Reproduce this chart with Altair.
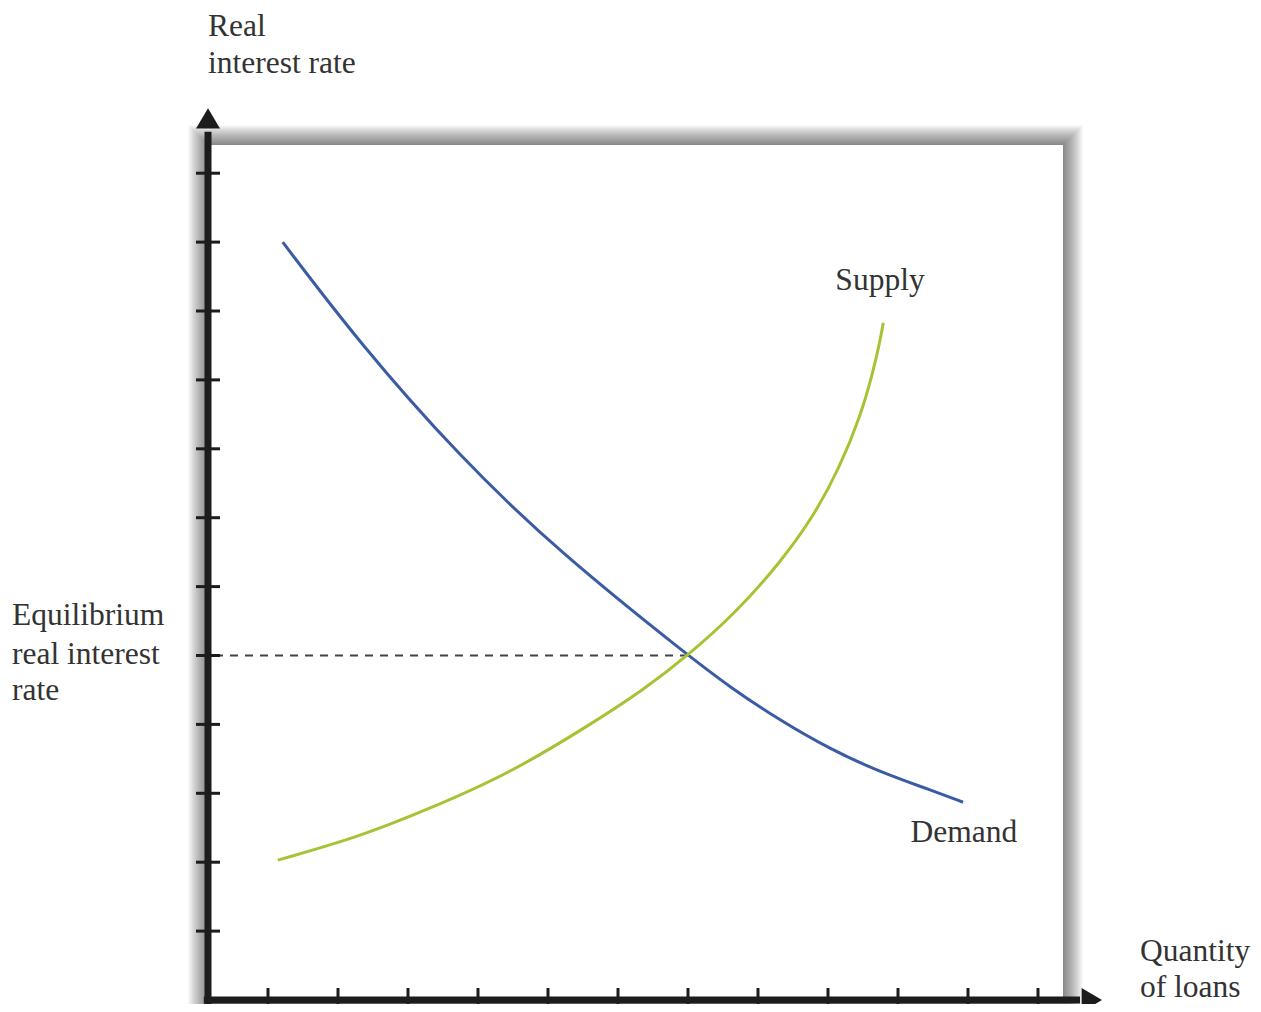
import altair as alt
import pandas as pd

# ---- data (x = quantity ticks 1..12, y = rate ticks 1..12) ----
demand_x = [1.21, 2.31, 3.74, 5.17, 7.0, 7.6, 8.31, 9.03, 9.74, 10.46, 10.93]
demand_y = [11.0, 9.53, 7.88, 6.49, 5.0, 4.54, 4.06, 3.64, 3.31, 3.05, 2.87]

supply_x = [1.14, 2.31, 3.27, 4.46, 5.64, 6.36, 7.0, 7.7, 8.31, 8.79, 9.17, 9.46, 9.64, 9.74, 9.79]
supply_y = [2.03, 2.37, 2.76, 3.29, 4.02, 4.50, 5.0, 5.64, 6.34, 7.01, 7.74, 8.46, 9.10, 9.55, 9.83]

x_ticks = list(range(1, 13))
y_ticks = list(range(1, 13))
eq_x, eq_y = 7.0, 5.0

label_text = ["Real", "interest rate", "Equilibrium", "real interest", "rate",
              "Supply", "Demand", "Quantity", "of loans"]
label_x = [0.143, 0.143, -2.657, -2.657, -2.657, 9.743, 10.94, 13.457, 13.457]
label_y = [13.99, 13.46, 5.44, 4.88, 4.35, 10.30, 2.29, 0.566, 0.0435]
label_align = ["left", "left", "left", "left", "left", "center", "center", "left", "left"]

# panel (white box with shadow) and axis extents in data units
panel_x0, panel_x1, panel_y0, panel_y1 = 0.143, 12.357, 0.0, 12.41
origin_x, origin_y = 0.143, 0.0
y_axis_top, x_axis_right = 12.6, 12.6
y_arrow_y, x_arrow_x = 12.77, 12.743

X_DOMAIN = [-2.7143, 15.0714]
Y_DOMAIN = [-0.05806, 14.3977]

xs = alt.Scale(domain=X_DOMAIN, nice=False, zero=False)
ys = alt.Scale(domain=Y_DOMAIN, nice=False, zero=False)

AX = "#1c1c1c"
TXT = "#333333"
FONT = "Liberation Serif"

panel = pd.DataFrame({"x": [panel_x0], "x2": [panel_x1], "y": [panel_y0], "y2": [panel_y1]})
panel_enc = dict(
    x=alt.X("x:Q", scale=xs, axis=None),
    x2="x2:Q",
    y=alt.Y("y:Q", scale=ys, axis=None),
    y2="y2:Q",
)

layers = []
for w in range(2, 42, 2):
    layers.append(
        alt.Chart(panel).mark_rect(fillOpacity=0, stroke="black", strokeWidth=w,
                                   strokeOpacity=0.028).encode(**panel_enc)
    )
layers.append(alt.Chart(panel).mark_rect(color="white").encode(**panel_enc))

# dashed equilibrium line
dash = pd.DataFrame({"x": [origin_x + 0.1], "x2": [eq_x], "y": [eq_y]})
layers.append(
    alt.Chart(dash).mark_rule(color="#444444", strokeWidth=2, strokeDash=[8, 7]).encode(
        x=alt.X("x:Q", scale=xs, axis=None), x2="x2:Q", y=alt.Y("y:Q", scale=ys, axis=None)
    )
)

curves = pd.concat([
    pd.DataFrame({"x": demand_x, "y": demand_y, "s": "Demand", "o": range(len(demand_x))}),
    pd.DataFrame({"x": supply_x, "y": supply_y, "s": "Supply", "o": range(len(supply_x))}),
])
layers.append(
    alt.Chart(curves).mark_line(strokeWidth=3, interpolate="basis").encode(
        x=alt.X("x:Q", scale=xs, axis=None),
        y=alt.Y("y:Q", scale=ys, axis=None),
        order="o:Q",
        detail="s:N",
        color=alt.Color("s:N", scale=alt.Scale(domain=["Demand", "Supply"],
                                               range=["#3b5ca4", "#a6c334"]), legend=None),
    )
)

# ticks crossing the axes
xt = pd.DataFrame({"x": x_ticks, "y": [origin_y] * len(x_ticks)})
yt = pd.DataFrame({"x": [origin_x] * len(y_ticks), "y": y_ticks})
layers.append(
    alt.Chart(xt).mark_tick(orient="vertical", size=24, thickness=3, color=AX, opacity=1).encode(
        x=alt.X("x:Q", scale=xs, axis=None), y=alt.Y("y:Q", scale=ys, axis=None))
)
layers.append(
    alt.Chart(yt).mark_tick(orient="horizontal", size=24, thickness=3, color=AX, opacity=1).encode(
        x=alt.X("x:Q", scale=xs, axis=None), y=alt.Y("y:Q", scale=ys, axis=None))
)

# axis lines
axes = pd.DataFrame({
    "x": [origin_x, origin_x - 0.06],
    "x2": [origin_x, x_axis_right],
    "y": [origin_y - 0.06, origin_y],
    "y2": [y_axis_top, origin_y],
})
layers.append(
    alt.Chart(axes).mark_rule(color=AX, strokeWidth=7).encode(
        x=alt.X("x:Q", scale=xs, axis=None), x2="x2:Q",
        y=alt.Y("y:Q", scale=ys, axis=None), y2="y2:Q")
)

# arrow heads
up = pd.DataFrame({"x": [origin_x], "y": [y_arrow_y]})
right = pd.DataFrame({"x": [x_arrow_x], "y": [origin_y]})
layers.append(
    alt.Chart(up).mark_point(shape="M0,-1L1,0.7L-1,0.7Z", filled=True, size=576,
                             color=AX, opacity=1, strokeWidth=0).encode(
        x=alt.X("x:Q", scale=xs, axis=None), y=alt.Y("y:Q", scale=ys, axis=None))
)
layers.append(
    alt.Chart(right).mark_point(shape="M1,0L-0.7,-1L-0.7,1Z", filled=True, size=576,
                                color=AX, opacity=1, strokeWidth=0).encode(
        x=alt.X("x:Q", scale=xs, axis=None), y=alt.Y("y:Q", scale=ys, axis=None))
)

# labels
labels = pd.DataFrame({"x": label_x, "y": label_y, "t": label_text, "a": label_align})
for a in ["left", "center"]:
    layers.append(
        alt.Chart(labels[labels["a"] == a]).mark_text(
            align=a, baseline="alphabetic", font=FONT, fontSize=31.5, color=TXT).encode(
            x=alt.X("x:Q", scale=xs, axis=None), y=alt.Y("y:Q", scale=ys, axis=None), text="t:N")
    )

chart = alt.layer(*layers).properties(
    width=1245, height=996, autosize="none", padding=0, background="white"
).configure_view(stroke="transparent")

chart.save("out.html", embed_options={"renderer": "svg", "actions": False})
